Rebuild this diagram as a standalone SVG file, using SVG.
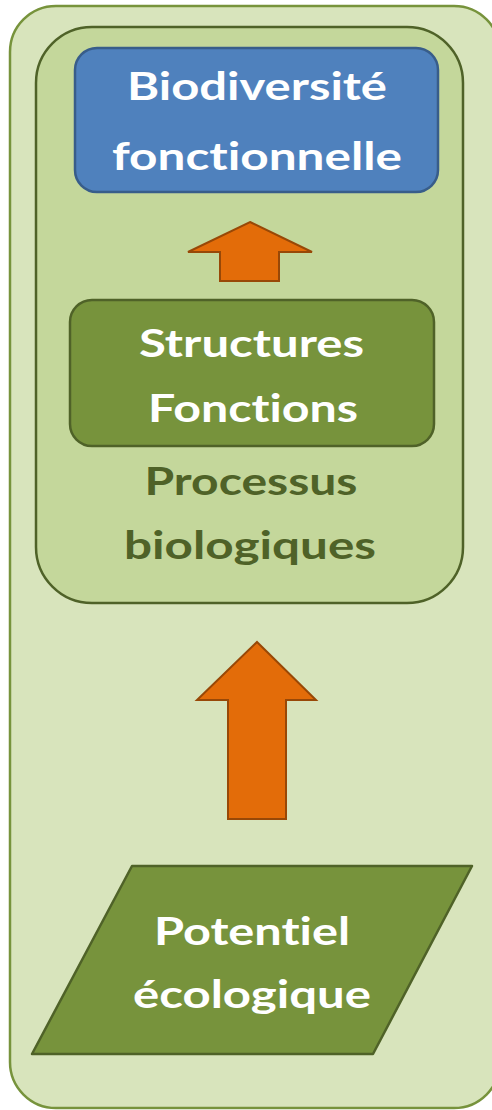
<svg xmlns="http://www.w3.org/2000/svg" width="492" height="1110" viewBox="0 0 492 1110">
<style>
.t{font-family:Lato,"Liberation Sans",Arial,sans-serif;font-weight:bold;font-size:39px;text-anchor:middle;font-variant-ligatures:none;font-feature-settings:"liga" 0,"clig" 0}
.w{fill:#FFFFFF}
.d{fill:#4F6228}
.arr{fill:#E36C09;stroke:#984807;stroke-width:2}
</style>
<rect width="492" height="1110" fill="#FFFFFF"/>
<g id="outer">
<rect x="10" y="6" width="490" height="1102" rx="46" fill="#D8E4BC" stroke="#77933C" stroke-width="2.5"/>
</g>
<g id="processus">
<rect x="36" y="27" width="427" height="576" rx="56" fill="#C4D79B" stroke="#4F6228" stroke-width="2.5"/>
<text class="t d" x="251" y="495" textLength="213" lengthAdjust="spacingAndGlyphs">Processus</text>
<text class="t d" x="250" y="559" textLength="252" lengthAdjust="spacingAndGlyphs">biologiques</text>
</g>
<g id="biodiversite">
<rect x="75" y="48" width="363" height="144" rx="22" fill="#4F81BD" stroke="#385D8A" stroke-width="2.5"/>
<text class="t w" x="257" y="100" textLength="260" lengthAdjust="spacingAndGlyphs">Biodiversité</text>
<text class="t w" x="257" y="170" textLength="290" lengthAdjust="spacingAndGlyphs">fonctionnelle</text>
</g>
<g id="structures">
<rect x="70" y="300" width="364" height="146" rx="22" fill="#77933C" stroke="#4F6228" stroke-width="2.5"/>
<text class="t w" x="251.5" y="357" textLength="225" lengthAdjust="spacingAndGlyphs">Structures</text>
<text class="t w" x="253" y="422" textLength="210" lengthAdjust="spacingAndGlyphs">Fonctions</text>
</g>
<g id="potentiel">
<polygon points="132,866 472,866 373,1054 32,1054" fill="#77933C" stroke="#4F6228" stroke-width="2.5" stroke-linejoin="round"/>
<text class="t w" x="252" y="945" textLength="196" lengthAdjust="spacingAndGlyphs">Potentiel</text>
<text class="t w" x="252" y="1008" textLength="238" lengthAdjust="spacingAndGlyphs">écologique</text>
</g>
<g id="connectors">
<polygon class="arr" points="250,222 312,252 279,252 279,281 220,281 220,252 188,252"/>
<polygon class="arr" points="257,642 316,700 286,700 286,819 228,819 228,700 197,700"/>
</g>
</svg>
